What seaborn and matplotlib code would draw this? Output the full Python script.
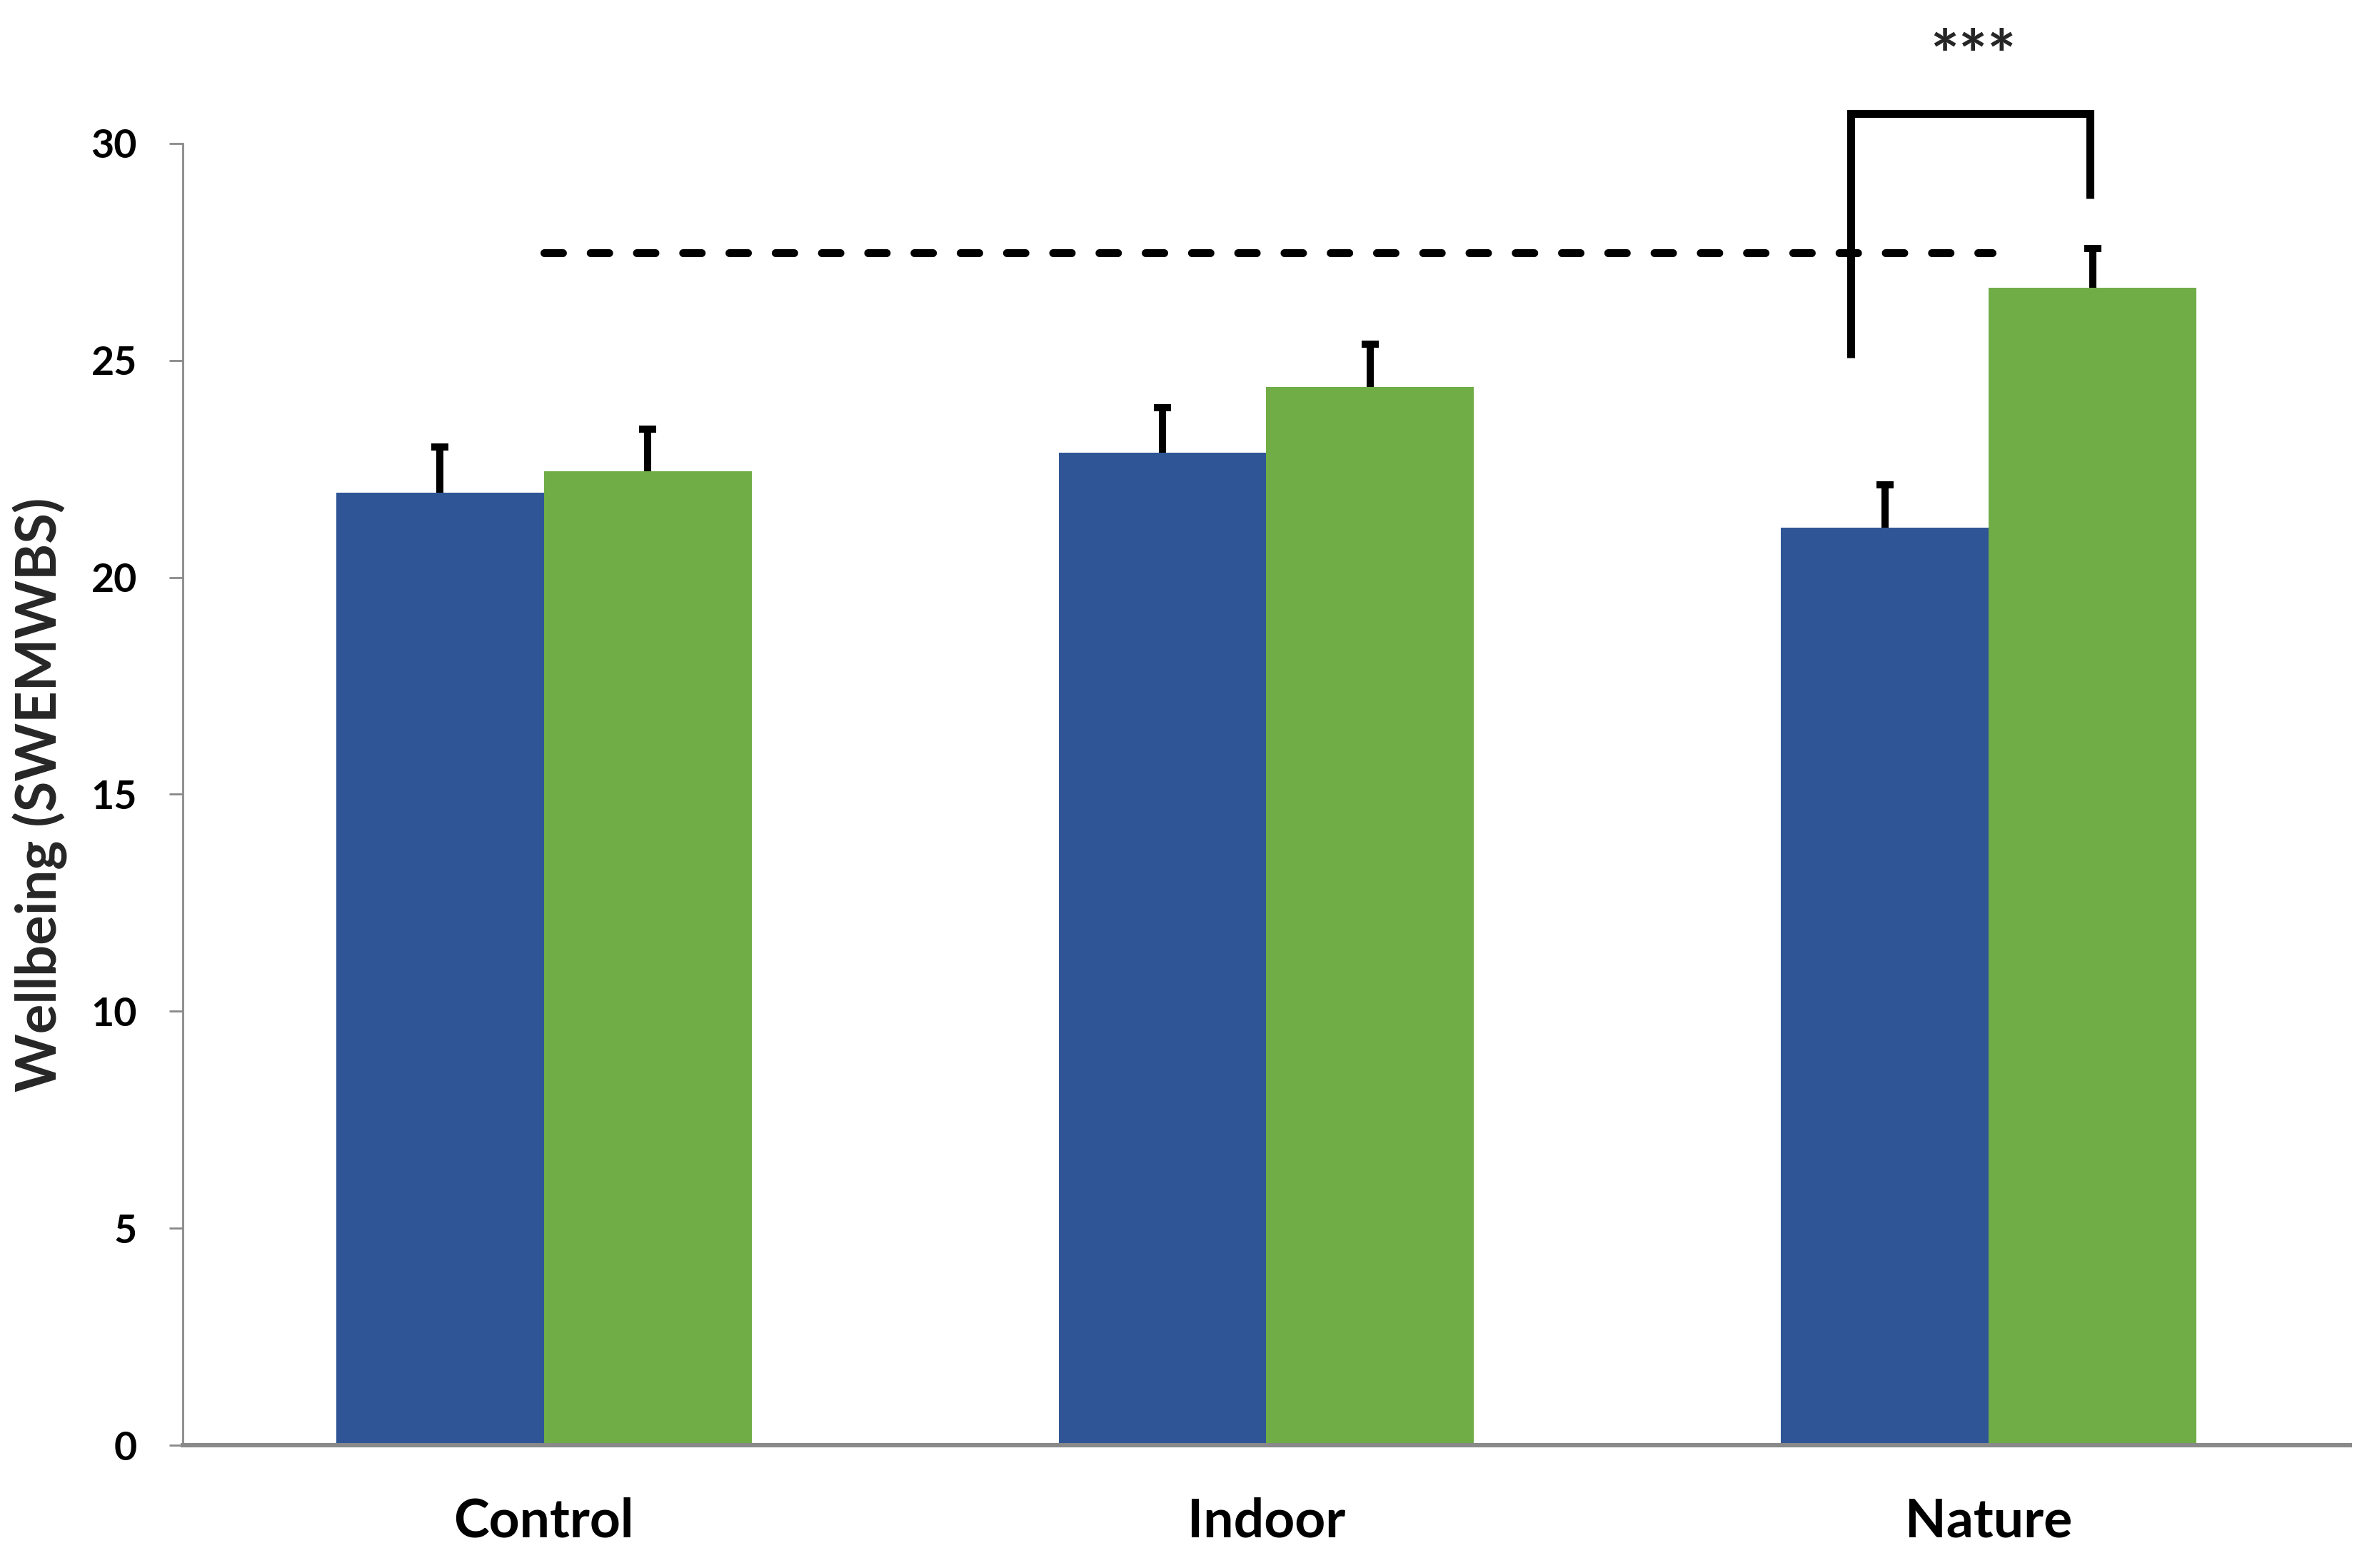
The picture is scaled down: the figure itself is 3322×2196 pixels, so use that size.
import numpy as np
import pandas as pd
import matplotlib
matplotlib.use('Agg')
import matplotlib.pyplot as plt
import seaborn as sns

# values
conditions = ['Control', 'Indoor', 'Nature']
before_means = [21.96, 22.88, 21.15]
after_means = [22.44, 24.38, 26.67]
before_err = [1.05, 1.03, 0.98]
after_err = [0.98, 1.00, 0.91]
time_labels = ['Before', 'After']
yticks = [0, 5, 10, 15, 20, 25, 30]

# annotations
dash_x = [0.0, 2.005]
dash_y = [27.48, 27.48]
bracket_x = [1.809, 1.809, 2.14, 2.14]
bracket_y = [25.07, 30.69, 30.69, 28.73]
stars_pos = (1.978, 31.5)

BLUE = '#2F5597'
GREEN = '#70AD47'
GREY = '#898989'


def build_frame():
    rows = []
    for t, means in zip(time_labels, [before_means, after_means]):
        for c, m in zip(conditions, means):
            rows.append({'condition': c, 'time': t, 'score': m})
    return pd.DataFrame(rows)


def main():
    sns.set_style('white')
    plt.rcParams['font.family'] = ['Lato', 'DejaVu Sans']
    plt.rcParams['font.weight'] = 'bold'

    df = build_frame()

    fig = plt.figure(figsize=(3323 / 200, 2196 / 200), dpi=200)
    ax = fig.add_axes([0.0770, 0.0783, 0.9134, 0.8302])

    sns.barplot(data=df, x='condition', y='score', hue='time', order=conditions,
                hue_order=time_labels, palette=[BLUE, GREEN], width=0.575, gap=0,
                saturation=1, errorbar=None, legend=False, linewidth=0, ax=ax)

    # upper-only error bars on top of each bar (hide the cap at the bar top)
    for container, errs in zip(ax.containers, [before_err, after_err]):
        xs = [b.get_x() + b.get_width() / 2 for b in container]
        hs = [b.get_height() for b in container]
        _, caps, _ = ax.errorbar(xs, hs, yerr=[np.zeros(len(errs)), errs], fmt='none',
                                 ecolor='black', elinewidth=3.6, capsize=4.2,
                                 capthick=3.6, zorder=3)
        for cap in caps:
            if np.allclose(cap.get_ydata(), hs):
                cap.set_visible(False)

    ax.plot(dash_x, dash_y, color='black', lw=4, linestyle=(0, (2.33, 3.5)),
            dash_capstyle='round', zorder=4)
    ax.plot(bracket_x, bracket_y, color='black', lw=4, clip_on=False,
            solid_joinstyle='miter', solid_capstyle='butt', zorder=4)
    ax.text(stars_pos[0], stars_pos[1], '***', ha='center', va='baseline',
            fontsize=34, fontweight='bold', clip_on=False)

    ax.set_xlim(-0.5, 2.5)
    ax.set_ylim(0, 30)
    ax.set_yticks(yticks)
    ax.set_yticklabels([str(v) for v in yticks], fontweight='bold')
    ax.set_xticks(range(len(conditions)))
    ax.set_xticklabels(conditions, fontweight='bold')

    ax.set_xlabel('')
    ax.set_ylabel('Wellbeing (SWEMWBS)', fontsize=28, fontweight='bold')
    ax.yaxis.set_label_coords(-0.053, 0.5)

    sns.despine(ax=ax)
    ax.spines['left'].set_color(GREY)
    ax.spines['left'].set_linewidth(1.0)
    ax.spines['bottom'].set_color(GREY)
    ax.spines['bottom'].set_linewidth(2.2)

    ax.tick_params(axis='y', direction='out', left=True, length=7, width=1,
                   color=GREY, labelsize=20, pad=16, labelcolor='black')
    ax.tick_params(axis='x', length=0, labelsize=27, pad=26, labelcolor='black')

    fig.savefig('out.png', dpi=200, facecolor='white')


if __name__ == '__main__':
    main()
